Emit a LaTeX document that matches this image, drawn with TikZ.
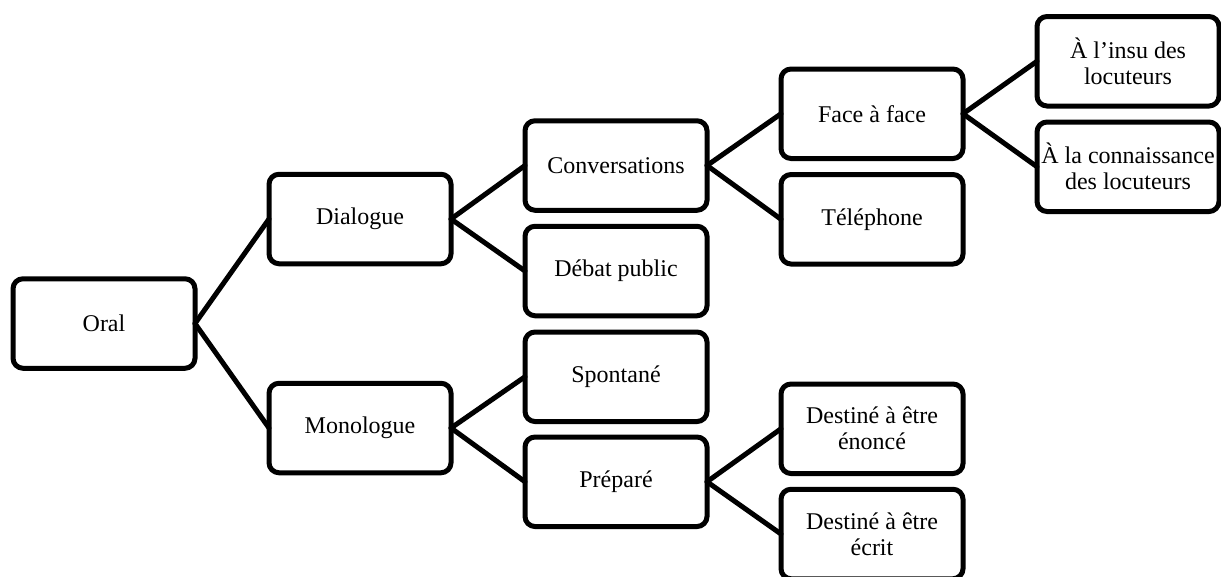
\documentclass[tikz,border=0pt]{standalone}
\usepackage{fontspec}
\setmainfont{Liberation Serif}
\begin{document}
\begin{tikzpicture}[x=1pt,y=-1pt,
  box/.style={draw=black, line width=5pt, rounded corners=10pt, fill=white,
    minimum width=182pt, minimum height=89.5pt, outer sep=0pt, inner sep=2pt,
    align=center, font=\fontsize{24}{26}\selectfont},
  link/.style={line width=5pt, line cap=round}]
\useasboundingbox[fill=white] (0,0) rectangle (1221,576);
\node[box] (oral) at (104,323.5) {Oral};
\node[box] (dia) at (360,219) {Dialogue};
\node[box] (mono) at (360,428) {Monologue};
\node[box] (conv) at (616,165.5) {Conversations};
\node[box] (deb) at (616,271) {Débat public};
\node[box] (spon) at (616,376.75) {Spontané};
\node[box] (prep) at (616,481.75) {Préparé};
\node[box] (face) at (872,113.75) {Face à face};
\node[box] (tel) at (872,219.25) {Téléphone};
\node[box] (enon) at (872,428.75) {Destiné à être\\énoncé};
\node[box] (ecrit) at (872,534) {Destiné à être\\écrit};
\node[box] (insu) at (1128,61.25) {À l’insu des\\locuteurs};
\node[box] (conn) at (1128,166.75) {À la connaissance\\des locuteurs};
\draw[link] (oral.east) -- (dia.west);
\draw[link] (oral.east) -- (mono.west);
\draw[link] (dia.east) -- (conv.west);
\draw[link] (dia.east) -- (deb.west);
\draw[link] (mono.east) -- (spon.west);
\draw[link] (mono.east) -- (prep.west);
\draw[link] (conv.east) -- (face.west);
\draw[link] (conv.east) -- (tel.west);
\draw[link] (prep.east) -- (enon.west);
\draw[link] (prep.east) -- (ecrit.west);
\draw[link] (face.east) -- (insu.west);
\draw[link] (face.east) -- (conn.west);
\end{tikzpicture}
\end{document}
